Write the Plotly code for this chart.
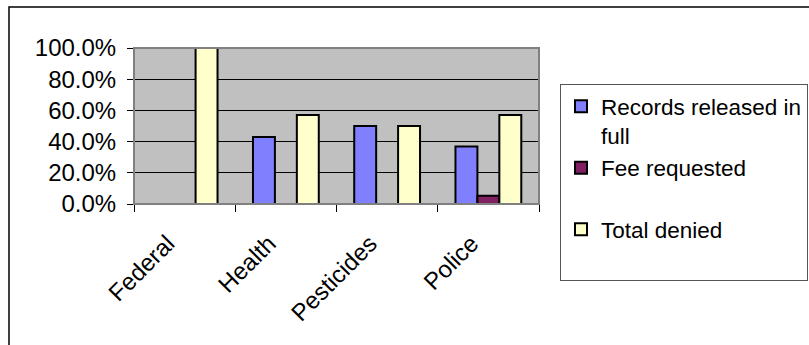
import plotly.graph_objects as go

# Share of requests by agency and outcome
categories = ["Federal", "Health", "Pesticides", "Police"]
released_in_full = [0.0, 0.429, 0.50, 0.368]
fee_requested = [0.0, 0.0, 0.0, 0.053]
total_denied = [1.0, 0.571, 0.50, 0.571]

series = [
    ("Records released in<br>full", released_in_full, "#8080FF"),
    ("Fee requested<br> ", fee_requested, "#802060"),
    ("Total denied<br> ", total_denied, "#FFFFCC"),
]

FONT = "Liberation Sans, Arial, sans-serif"

fig = go.Figure()
for name, values, color in series:
    fig.add_trace(go.Bar(
        x=categories, y=values, name=name,
        marker=dict(color=color, line=dict(color="#000000", width=2)),
    ))

W, H = 809, 345
L, R, T, B = 134, 270, 48, 141
pw, ph = W - L - R, H - T - B

def px_x(p):
    return (p - L) / pw

def px_y(p):
    return (H - B - p) / ph

fig.update_layout(
    width=W, height=H,
    margin=dict(l=L, r=R, t=T, b=B, autoexpand=False),
    paper_bgcolor="#FFFFFF",
    plot_bgcolor="#C0C0C0",
    barmode="group",
    bargap=0.35,
    bargroupgap=0,
    font=dict(family=FONT, size=22, color="#000000"),
    showlegend=True,
    legend=dict(
        x=px_x(560), y=px_y(84), xanchor="left", yanchor="top",
        bgcolor="#FFFFFF", bordercolor="#555555", borderwidth=1,
        font=dict(family=FONT, size=22.5, color="#000000"),
        valign="top", traceorder="normal", itemwidth=30,
        maxheight=300,
    ),
    shapes=[
        # chart frame
        dict(type="rect", xref="paper", yref="paper",
             x0=px_x(9), y0=px_y(7), x1=px_x(840), y1=px_y(380),
             line=dict(color="#000000", width=1.5), fillcolor="rgba(0,0,0,0)",
             layer="below"),
        # plot area border
        dict(type="rect", xref="paper", yref="paper",
             x0=0, y0=0, x1=1, y1=1,
             line=dict(color="#808080", width=2), fillcolor="rgba(0,0,0,0)",
             layer="above"),
    ],
)

fig.update_yaxes(
    range=[0, 1], dtick=0.2, tickformat=".1%",
    showgrid=True, gridcolor="#000000", gridwidth=1,
    showline=True, linecolor="#000000", linewidth=1,
    ticks="outside", ticklen=6, tickcolor="#000000",
    ticklabelstandoff=6,
    tickfont=dict(family=FONT, size=24),
    zeroline=False,
)
fig.update_xaxes(
    tickson="boundaries",
    showgrid=False,
    showline=True, linecolor="#000000", linewidth=1,
    ticks="outside", ticklen=7, tickcolor="#000000",
    tickangle=-45,
    ticklabelstandoff=15,
    ticklabelshift=-17,
    tickfont=dict(family=FONT, size=24),
)

fig.write_html("out.html")
